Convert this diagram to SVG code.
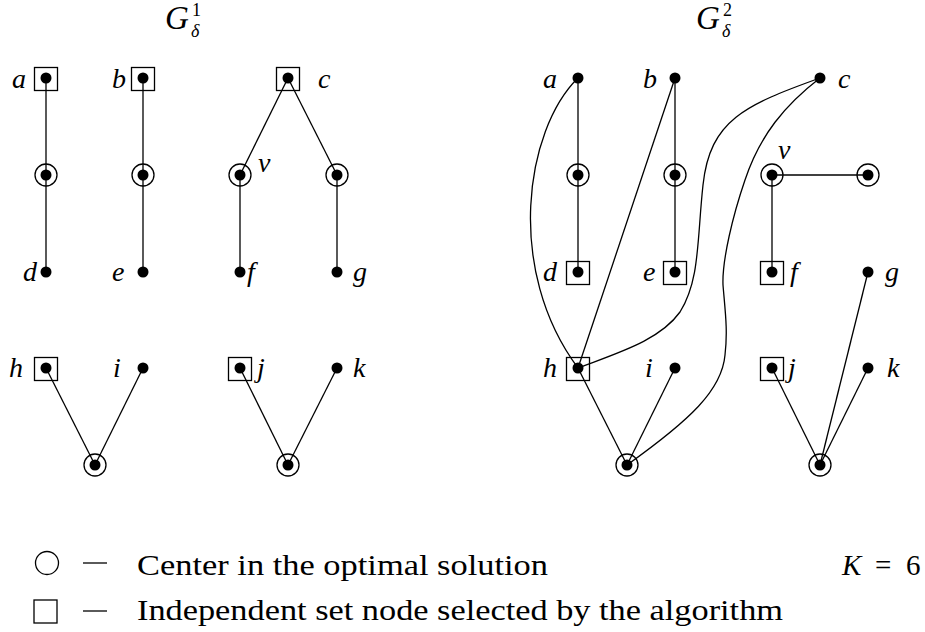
<svg xmlns="http://www.w3.org/2000/svg" width="925" height="632" viewBox="0 0 925 632">
<style>
.e{fill:none;stroke:#000;stroke-width:1.3}
.dot{fill:#000}
.sq{fill:none;stroke:#000;stroke-width:1.3}
.ci{fill:none;stroke:#000;stroke-width:1.3}
.lb{font-family:"Liberation Serif",serif;font-style:italic;font-size:28px;fill:#000}
.tt{font-family:"Liberation Serif",serif;font-style:italic;font-size:33px;fill:#000}
.ts{font-family:"Liberation Serif",serif;font-size:18px;fill:#000}
.tsi{font-family:"Liberation Serif",serif;font-style:italic;font-size:18px;fill:#000}
.lg{font-family:"Liberation Serif",serif;font-size:29px;fill:#000}
</style>
<defs>
<circle id="d" r="5.5" class="dot"/>
<rect id="s" x="-11.5" y="-11.5" width="23" height="23" class="sq"/>
<circle id="c" r="11" class="ci"/>
</defs>

<!-- titles -->
<g id="title1">
<text x="165" y="29" class="tt">G</text>
<text x="192" y="16" class="ts">1</text>
<text x="191" y="37" class="tsi">δ</text>
</g>
<g id="title2">
<text x="696" y="29" class="tt">G</text>
<text x="723" y="16" class="ts">2</text>
<text x="722" y="37" class="tsi">δ</text>
</g>

<!-- connectors -->
<g id="edges">
<!-- left graph -->
<line class="e" x1="46" y1="78" x2="46" y2="272"/>
<line class="e" x1="143" y1="78" x2="143" y2="272"/>
<line class="e" x1="288" y1="78" x2="240" y2="175"/>
<line class="e" x1="288" y1="78" x2="337" y2="175"/>
<line class="e" x1="240" y1="175" x2="240" y2="272"/>
<line class="e" x1="337" y1="175" x2="337" y2="272"/>
<line class="e" x1="46" y1="368" x2="95" y2="465"/>
<line class="e" x1="143" y1="368" x2="95" y2="465"/>
<line class="e" x1="240" y1="368" x2="288" y2="465"/>
<line class="e" x1="337" y1="368" x2="288" y2="465"/>
<!-- right graph -->
<line class="e" x1="578" y1="78" x2="578" y2="272"/>
<line class="e" x1="675" y1="78" x2="675" y2="272"/>
<line class="e" x1="675" y1="78" x2="578" y2="368"/>
<path class="e" d="M578,78 C525,130 505,270 578,368"/>
<path class="e" d="M820,78 C745,105 710,120 703,185 C697,240 700,280 680,312 C660,340 620,352 578,368"/>
<path class="e" d="M820,78 C785,105 760,135 745,180 C733,215 722,260 723,285 C725,310 728,330 725,355 C722,390 690,420 627,465"/>
<line class="e" x1="772" y1="175" x2="868" y2="175"/>
<line class="e" x1="772" y1="175" x2="772" y2="272"/>
<line class="e" x1="578" y1="368" x2="627" y2="465"/>
<line class="e" x1="675" y1="368" x2="627" y2="465"/>
<line class="e" x1="772" y1="368" x2="820" y2="465"/>
<line class="e" x1="868" y1="272" x2="820" y2="465"/>
<line class="e" x1="868" y1="368" x2="820" y2="465"/>
</g>

<!-- left graph nodes -->
<g id="L-a"><use href="#s" x="46" y="79"/><use href="#d" x="46" y="78"/><text x="12" y="88" class="lb">a</text></g>
<g id="L-b"><use href="#s" x="143" y="79"/><use href="#d" x="143" y="78"/><text x="112" y="88" class="lb">b</text></g>
<g id="L-c"><use href="#s" x="288" y="79"/><use href="#d" x="288" y="78"/><text x="318" y="88" class="lb">c</text></g>
<g id="L-ca"><use href="#c" x="46" y="175"/><use href="#d" x="46" y="175"/></g>
<g id="L-cb"><use href="#c" x="143" y="175"/><use href="#d" x="143" y="175"/></g>
<g id="L-v"><use href="#c" x="240" y="175"/><use href="#d" x="240" y="175"/><text x="258" y="172" class="lb">v</text></g>
<g id="L-cg"><use href="#c" x="337" y="175"/><use href="#d" x="337" y="175"/></g>
<g id="L-d"><use href="#d" x="46" y="272"/><text x="23" y="281" class="lb">d</text></g>
<g id="L-e"><use href="#d" x="143" y="272"/><text x="112" y="281" class="lb">e</text></g>
<g id="L-f"><use href="#d" x="240" y="272"/><text x="247" y="281" class="lb">f</text></g>
<g id="L-g"><use href="#d" x="337" y="272"/><text x="353" y="281" class="lb">g</text></g>
<g id="L-h"><use href="#s" x="46" y="369"/><use href="#d" x="46" y="368"/><text x="9" y="377" class="lb">h</text></g>
<g id="L-i"><use href="#d" x="143" y="368"/><text x="113" y="377" class="lb">i</text></g>
<g id="L-j"><use href="#s" x="240" y="369"/><use href="#d" x="240" y="368"/><text x="257" y="377" class="lb">j</text></g>
<g id="L-k"><use href="#d" x="337" y="368"/><text x="353" y="377" class="lb">k</text></g>
<g id="L-c1"><use href="#c" x="95" y="465"/><use href="#d" x="95" y="465"/></g>
<g id="L-c2"><use href="#c" x="288" y="465"/><use href="#d" x="288" y="465"/></g>

<!-- right graph nodes -->
<g id="R-a"><use href="#d" x="578" y="78"/><text x="543" y="88" class="lb">a</text></g>
<g id="R-b"><use href="#d" x="675" y="78"/><text x="643" y="88" class="lb">b</text></g>
<g id="R-c"><use href="#d" x="820" y="78"/><text x="838" y="88" class="lb">c</text></g>
<g id="R-ca"><use href="#c" x="578" y="175"/><use href="#d" x="578" y="175"/></g>
<g id="R-cb"><use href="#c" x="675" y="175"/><use href="#d" x="675" y="175"/></g>
<g id="R-v"><use href="#c" x="772" y="175"/><use href="#d" x="772" y="175"/><text x="778" y="159" class="lb">v</text></g>
<g id="R-cv"><use href="#c" x="868" y="175"/><use href="#d" x="868" y="175"/></g>
<g id="R-d"><use href="#s" x="578" y="273"/><use href="#d" x="578" y="272"/><text x="543" y="281" class="lb">d</text></g>
<g id="R-e"><use href="#s" x="675" y="273"/><use href="#d" x="675" y="272"/><text x="643" y="281" class="lb">e</text></g>
<g id="R-f"><use href="#s" x="772" y="273"/><use href="#d" x="772" y="272"/><text x="790" y="281" class="lb">f</text></g>
<g id="R-g"><use href="#d" x="868" y="272"/><text x="885" y="281" class="lb">g</text></g>
<g id="R-h"><use href="#s" x="578" y="369"/><use href="#d" x="578" y="368"/><text x="543" y="377" class="lb">h</text></g>
<g id="R-i"><use href="#d" x="675" y="368"/><text x="645" y="377" class="lb">i</text></g>
<g id="R-j"><use href="#s" x="772" y="369"/><use href="#d" x="772" y="368"/><text x="788" y="377" class="lb">j</text></g>
<g id="R-k"><use href="#d" x="868" y="368"/><text x="887" y="377" class="lb">k</text></g>
<g id="R-c1"><use href="#c" x="627" y="465"/><use href="#d" x="627" y="465"/></g>
<g id="R-c2"><use href="#c" x="820" y="465"/><use href="#d" x="820" y="465"/></g>

<!-- legend -->
<g id="legend">
<circle cx="47" cy="563" r="11.5" class="ci"/>
<line x1="83" y1="563" x2="107" y2="563" class="e"/>
<text x="137" y="575" class="lg" textLength="411" lengthAdjust="spacingAndGlyphs">Center in the optimal solution</text>
<text x="842" y="575" class="lg" font-style="italic">K</text>
<text x="875" y="575" class="lg">=</text>
<text x="906" y="575" class="lg">6</text>
<rect x="34" y="600" width="23" height="23" class="sq"/>
<line x1="83" y1="611" x2="107" y2="611" class="e"/>
<text x="137" y="620" class="lg" textLength="646" lengthAdjust="spacingAndGlyphs">Independent set node selected by the algorithm</text>
</g>
</svg>
